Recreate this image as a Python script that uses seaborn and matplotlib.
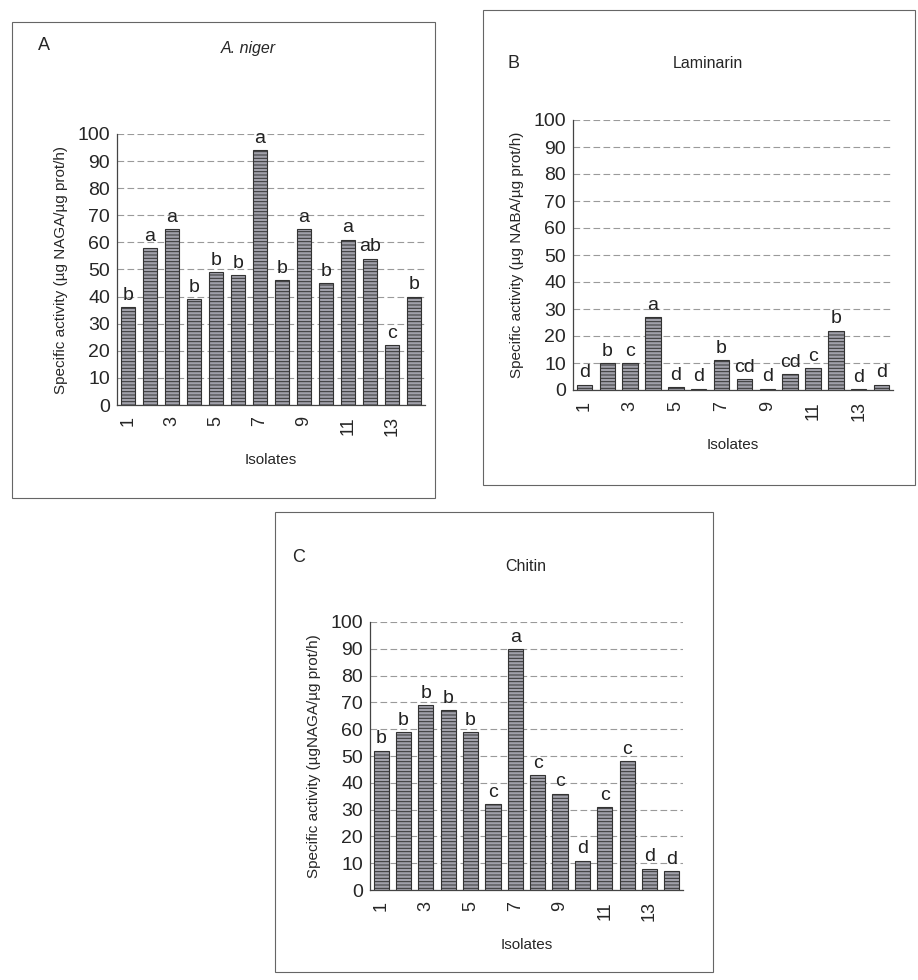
import matplotlib
matplotlib.use("Agg")
import matplotlib.pyplot as plt
import seaborn as sns
import pandas as pd
import numpy as np
from matplotlib.patches import Rectangle

sns.set_style("white")
plt.rcParams['font.family'] = ['Liberation Sans', 'DejaVu Sans']
plt.rcParams['hatch.linewidth'] = 0.7

isolates = [str(i) for i in range(1, 15)]
tick_labels = ["1", "", "3", "", "5", "", "7", "", "9", "", "11", "", "13", ""]

niger_vals = [36, 58, 65, 39, 49, 48, 94, 46, 65, 45, 61, 54, 22, 40]
niger_letters = ["b", "a", "a", "b", "b", "b", "a", "b", "a", "b", "a", "ab", "c", "b"]

lam_vals = [2, 10, 10, 27, 1, 0.5, 11, 4, 0.5, 6, 8, 22, 0.2, 2]
lam_letters = ["d", "b", "c", "a", "d", "d", "b", "cd", "d", "cd", "c", "b", "d", "d"]

chit_vals = [52, 59, 69, 67, 59, 32, 90, 43, 36, 11, 31, 48, 8, 7]
chit_letters = ["b", "b", "b", "b", "b", "c", "a", "c", "c", "d", "c", "c", "d", "d"]

W, H = 918, 980
fig = plt.figure(figsize=(W / 100, H / 100), dpi=100)


def fx(x):
    return x / W


def fy(y):
    return 1 - y / H


def panel(rect_px, vals, letters, ylabel, box_px, letter, letter_xy, title, title_xy, title_style):
    x0, x1, ytop, ybot = rect_px
    ax = fig.add_axes([fx(x0), fy(ybot), fx(x1) - fx(x0), (ybot - ytop) / H])
    df = pd.DataFrame({"Isolate": isolates, "Activity": vals})
    sns.barplot(data=df, x="Isolate", y="Activity", ax=ax, color="#a0a0aa",
                width=0.68, edgecolor="#333333", linewidth=0.8, saturation=1)
    for p in ax.patches:
        p.set_hatch("-----")
    ax.set_ylim(0, 100)
    ax.set_xlim(-0.5, 13.5)
    ax.set_yticks(range(0, 101, 10))
    ax.set_yticklabels([str(v) for v in range(0, 101, 10)], fontsize=14)
    ax.set_xticks(range(14))
    ax.set_xticklabels(tick_labels, rotation=90, fontsize=13)
    ax.set_xticks(np.arange(-0.5, 14, 1), minor=True)
    ax.tick_params(axis="x", which="major", length=0, pad=8)
    ax.tick_params(axis="x", which="minor", length=4, width=0.8, color="#555")
    ax.tick_params(axis="y", length=3, width=0.8, color="#555", pad=2)
    ax.yaxis.grid(True, linestyle=(0, (6, 3)), color="#9a9a9a", linewidth=0.8)
    ax.set_axisbelow(True)
    for s in ["top", "right"]:
        ax.spines[s].set_visible(False)
    for s in ["left", "bottom"]:
        ax.spines[s].set_color("#444")
        ax.spines[s].set_linewidth(0.9)
    ax.set_ylabel(ylabel, fontsize=11, labelpad=7)
    ax.set_xlabel("Isolates", fontsize=11, labelpad=12)
    for i, (v, l) in enumerate(zip(vals, letters)):
        ax.text(i, v + 1.2, l, ha="center", va="bottom", fontsize=14, color="#222")
    bx0, by0, bx1, by1 = box_px
    fig.add_artist(Rectangle((fx(bx0), fy(by1)), fx(bx1) - fx(bx0), (by1 - by0) / H,
                             transform=fig.transFigure, fill=False,
                             edgecolor="#666", linewidth=0.8))
    fig.text(fx(letter_xy[0]), fy(letter_xy[1]), letter, fontsize=13, ha="left", va="center")
    fig.text(fx(title_xy[0]), fy(title_xy[1]), title, fontsize=11.5, ha="center", va="center",
             style=title_style)
    return ax


panel((117, 425, 134, 405), niger_vals, niger_letters,
      "Specific activity (µg NAGA/µg prot/h)",
      (12, 22, 435, 498), "A", (38, 46), "A. niger", (248, 48), "italic")

panel((573, 893, 120, 390), lam_vals, lam_letters,
      "Specific activity (µg NABA/µg prot/h)",
      (483, 10, 915, 485), "B", (507, 63), "Laminarin", (708, 63), "normal")

panel((370, 683, 622, 890), chit_vals, chit_letters,
      "Specific activity (µgNAGA/µg prot/h)",
      (275, 512, 713, 972), "C", (292, 557), "Chitin", (526, 566), "normal")

fig.savefig("out.png", dpi=100)
